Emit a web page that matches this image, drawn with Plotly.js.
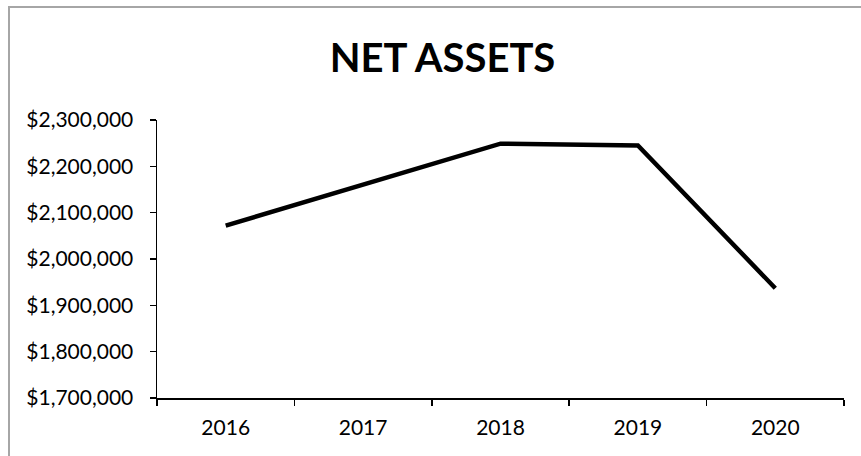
<!DOCTYPE html>
<html>
<head>
<meta charset="utf-8">
<script src="https://cdn.plot.ly/plotly-3.0.1.min.js"></script>
<style>
  html, body { margin: 0; padding: 0; background: #fff; }
  #wrap { position: relative; width: 861px; height: 456px; overflow: hidden; }
  #chart { width: 861px; height: 456px; }
  #frame { position: absolute; left: 8px; top: 6px; width: 900px; height: 500px;
           border-left: 2px solid #a6a6a6; border-top: 2px solid #a6a6a6; pointer-events: none; }
</style>
</head>
<body>
<div id="wrap">
  <div id="chart"></div>
  <div id="frame"></div>
</div>
<script>
const years = ['2016', '2017', '2018', '2019', '2020'];
const netAssets = [2072000, 2161000, 2249000, 2245000, 1937000];
const yTickVals = [1700000, 1800000, 1900000, 2000000, 2100000, 2200000, 2300000];
const chartTitle = 'NET ASSETS';

const trace = {
  type: 'scatter',
  mode: 'lines',
  x: years,
  y: netAssets,
  line: { color: '#000000', width: 4.5 },
  hoverinfo: 'skip'
};

const layout = {
  width: 861,
  height: 456,
  margin: { l: 157, r: 17, t: 120, b: 58 },
  paper_bgcolor: '#ffffff',
  plot_bgcolor: '#ffffff',
  showlegend: false,
  font: { family: 'Lato, sans-serif', color: '#000000', size: 21 },
  title: {
    text: '<b>' + chartTitle + '</b>',
    font: { family: 'Lato, sans-serif', size: 40, color: '#000000' },
    x: 0.514, xref: 'container', xanchor: 'center',
    y: 0.872, yref: 'container', yanchor: 'middle'
  },
  xaxis: {
    type: 'category',
    range: [-0.5, 4.5],
    tickson: 'boundaries',
    ticks: 'outside',
    ticklen: 6,
    tickwidth: 1.5,
    tickcolor: '#000000',
    showline: true,
    linecolor: '#000000',
    linewidth: 1.5,
    showgrid: false,
    zeroline: false,
    ticklabelstandoff: 10,
    tickfont: { family: 'Lato, sans-serif', size: 21, color: '#000000' },
    fixedrange: true
  },
  yaxis: {
    range: [1700000, 2300000],
    tickvals: yTickVals,
    tickformat: '$,.0f',
    ticks: 'outside',
    ticklen: 6,
    tickwidth: 1.5,
    tickcolor: '#000000',
    showline: true,
    linecolor: '#000000',
    linewidth: 1.5,
    showgrid: false,
    zeroline: false,
    ticklabelstandoff: 12,
    tickfont: { family: 'Lato, sans-serif', size: 21, color: '#000000' },
    fixedrange: true
  }
};

Plotly.newPlot('chart', [trace], layout, { staticPlot: true, displayModeBar: false });
</script>
</body>
</html>
